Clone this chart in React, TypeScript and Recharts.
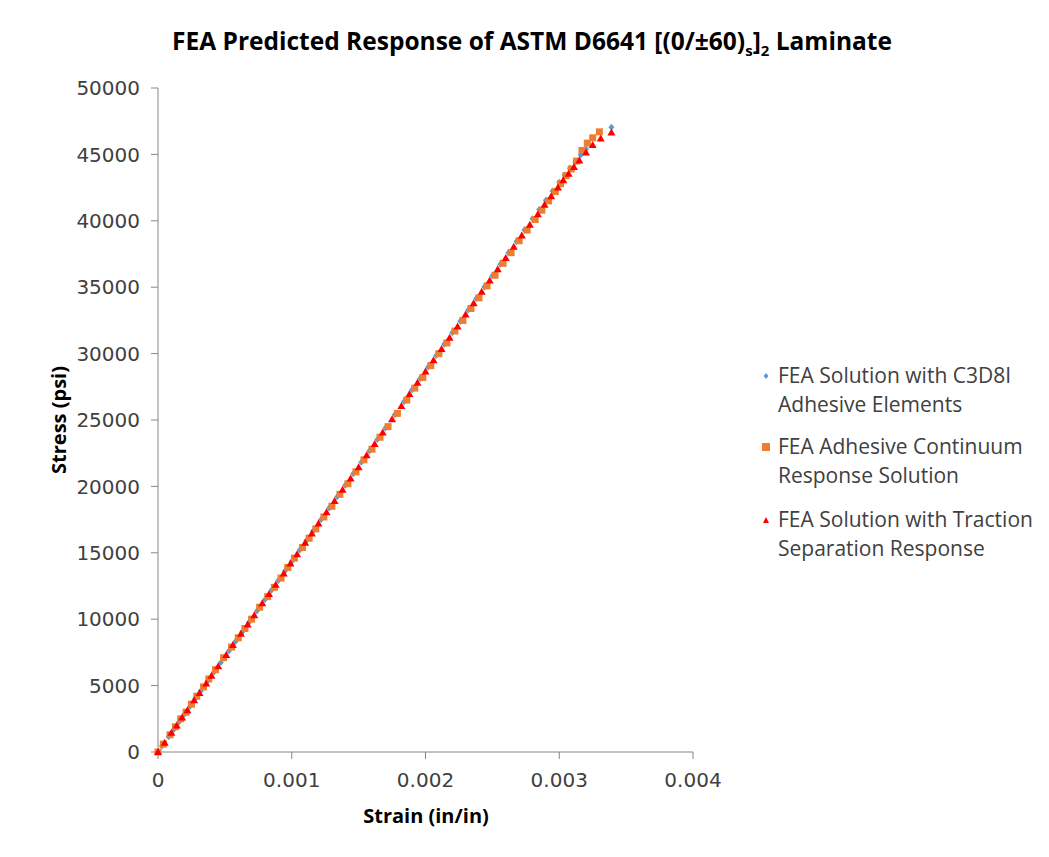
import React from 'react';
import { ScatterChart, Scatter, XAxis, YAxis } from 'recharts';

// strain (in/in) / stress (psi)
const c3d8iStrain = [0, 0.00003, 0.00008, 0.00012, 0.00016, 0.0002, 0.00024, 0.00028, 0.00032, 0.00037, 0.00042, 0.00047, 0.00053, 0.00058, 0.00063, 0.00068, 0.00074, 0.0008, 0.00085, 0.0009, 0.00095, 0.001, 0.00106, 0.00111, 0.00116, 0.00122, 0.00128, 0.00134, 0.0014, 0.00146, 0.00152, 0.00158, 0.00164, 0.0017, 0.00177, 0.00184, 0.0019, 0.00196, 0.00202, 0.00208, 0.00214, 0.0022, 0.00226, 0.00232, 0.00238, 0.00244, 0.0025, 0.00256, 0.00262, 0.00268, 0.00274, 0.0028, 0.00285, 0.0029, 0.00295, 0.003, 0.00304, 0.00308, 0.00312, 0.00316, 0.0032, 0.00339];
const c3d8iStress = [0, 450, 1150, 1720, 2300, 2870, 3440, 4020, 4590, 5310, 6030, 6740, 7600, 8320, 9040, 9760, 10620, 11480, 12200, 12910, 13630, 14350, 15210, 15930, 16650, 17510, 18370, 19230, 20090, 20950, 21810, 22670, 23530, 24400, 25400, 26400, 27270, 28130, 28990, 29850, 30710, 31570, 32430, 33290, 34150, 35010, 35870, 36730, 37590, 38450, 39300, 40150, 40850, 41550, 42250, 42900, 43450, 43950, 44450, 44950, 45400, 47050];

const continuumStrain = [0, 0.00004, 0.00009, 0.00013, 0.00017, 0.00021, 0.00025, 0.00029, 0.00034, 0.00038, 0.00043, 0.00049, 0.00055, 0.0006, 0.00065, 0.0007, 0.00076, 0.00082, 0.00087, 0.00092, 0.00097, 0.00102, 0.00108, 0.00113, 0.00118, 0.00124, 0.0013, 0.00136, 0.00142, 0.00148, 0.00154, 0.0016, 0.00166, 0.00172, 0.00179, 0.00186, 0.00192, 0.00198, 0.00204, 0.0021, 0.00216, 0.00222, 0.00228, 0.00234, 0.0024, 0.00246, 0.00252, 0.00258, 0.00264, 0.0027, 0.00276, 0.00282, 0.00287, 0.00292, 0.00297, 0.00301, 0.00305, 0.00309, 0.00313, 0.00317, 0.00321, 0.00325, 0.0033];
const continuumStress = [0, 600, 1300, 1900, 2500, 3000, 3600, 4200, 4900, 5500, 6200, 7100, 7900, 8600, 9300, 10000, 10900, 11700, 12400, 13100, 13900, 14600, 15400, 16100, 16800, 17700, 18500, 19400, 20200, 21100, 22000, 22800, 23700, 24500, 25500, 26500, 27400, 28200, 29100, 30000, 30800, 31700, 32500, 33400, 34200, 35100, 35900, 36800, 37600, 38500, 39300, 40100, 40800, 41500, 42200, 42800, 43400, 43900, 44500, 45300, 45850, 46250, 46700];

const tractionStrain = [0, 0.00005, 0.0001, 0.00014, 0.00018, 0.00022, 0.00027, 0.00031, 0.00036, 0.0004, 0.00045, 0.00051, 0.00056, 0.00062, 0.00067, 0.00072, 0.00078, 0.00083, 0.00088, 0.00094, 0.00099, 0.00104, 0.0011, 0.00115, 0.0012, 0.00126, 0.00132, 0.00138, 0.00144, 0.0015, 0.00156, 0.00162, 0.00168, 0.00175, 0.00182, 0.00188, 0.00194, 0.002, 0.00206, 0.00212, 0.00218, 0.00224, 0.0023, 0.00236, 0.00242, 0.00248, 0.00254, 0.0026, 0.00266, 0.00272, 0.00278, 0.00284, 0.00289, 0.00294, 0.00299, 0.00303, 0.00307, 0.00311, 0.00315, 0.0032, 0.00325, 0.00331, 0.00339];
const tractionStress = [0, 700, 1450, 2000, 2600, 3150, 3900, 4450, 5150, 5750, 6450, 7300, 8050, 8900, 9600, 10300, 11200, 11900, 12600, 13450, 14200, 14900, 15750, 16450, 17200, 18050, 18900, 19750, 20600, 21450, 22350, 23200, 24050, 25050, 26050, 26950, 27800, 28650, 29500, 30350, 31200, 32050, 32950, 33800, 34650, 35500, 36350, 37200, 38050, 38900, 39700, 40500, 41200, 41850, 42500, 43050, 43550, 44050, 44550, 45150, 45700, 46200, 46650];

const xTicks = [0, 0.001, 0.002, 0.003, 0.004];
const yTicks = [0, 5000, 10000, 15000, 20000, 25000, 30000, 35000, 40000, 45000, 50000];

const BLUE = '#5B9BD5';
const ORANGE = '#ED7D31';
const RED = '#FF0000';
const AXIS = '#868686';
const TEXT = '#404040';

const toPoints = (xs: number[], ys: number[]) => xs.map((x, i) => ({ x, y: ys[i] }));

const Diamond = (p: any) => (
  <polygon points={`${p.cx},${p.cy - 3.5} ${p.cx + 3},${p.cy} ${p.cx},${p.cy + 3.5} ${p.cx - 3},${p.cy}`} fill={BLUE} />
);
const Square = (p: any) => <rect x={p.cx - 3.5} y={p.cy - 3.5} width={7} height={7} fill={ORANGE} />;
const Triangle = (p: any) => (
  <polygon points={`${p.cx},${p.cy - 4} ${p.cx + 4},${p.cy + 3} ${p.cx - 4},${p.cy + 3}`} fill={RED} />
);

const legendItems = [
  { lines: ['FEA Solution with C3D8I', 'Adhesive Elements'], mark: 'diamond', top: 361 },
  { lines: ['FEA Adhesive Continuum', 'Response Solution'], mark: 'square', top: 432 },
  { lines: ['FEA Solution with Traction', 'Separation Response'], mark: 'triangle', top: 505 },
];

function LegendMark({ kind }: { kind: string }) {
  return (
    <svg width={10} height={10} style={{ position: 'absolute', left: -17, top: 10 }}>
      {kind === 'diamond' && <polygon points="5,2 7.5,5 5,8 2.5,5" fill={BLUE} />}
      {kind === 'square' && <rect x={1} y={1} width={8} height={8} fill={ORANGE} />}
      {kind === 'triangle' && <polygon points="5,2 8,8 2,8" fill={RED} />}
    </svg>
  );
}

export default function App() {
  const font = '"Open Sans", sans-serif';
  return (
    <div style={{ position: 'absolute', left: 0, top: 0, width: 1049, height: 857, background: '#fff', fontFamily: font }}>
      <div style={{ position: 'absolute', left: 0, top: 24, width: 1064, textAlign: 'center', fontWeight: 700, fontSize: 24.5, color: '#000' }}>
        FEA Predicted Response of ASTM D6641 [(0/±60)<sub style={{ fontSize: 15 }}>s</sub>]<sub style={{ fontSize: 15 }}>2</sub> Laminate
      </div>

      <ScatterChart width={1049} height={857} margin={{ top: 88, right: 356, bottom: 45, left: 0 }}>
        <XAxis
          type="number"
          dataKey="x"
          domain={[0, 0.004]}
          ticks={xTicks}
          tickFormatter={(v: number) => String(v)}
          height={60}
          tickSize={7}
          tickMargin={14}
          stroke={AXIS}
          tick={{ fill: TEXT, fontSize: 20, fontFamily: '"DejaVu Sans", sans-serif' }}
        />
        <YAxis
          type="number"
          dataKey="y"
          domain={[0, 50000]}
          ticks={yTicks}
          width={158}
          tickSize={7}
          tickMargin={11}
          stroke={AXIS}
          tick={{ fill: TEXT, fontSize: 20, fontFamily: '"DejaVu Sans", sans-serif' }}
        />
        <Scatter data={toPoints(c3d8iStrain, c3d8iStress)} shape={Diamond} isAnimationActive={false} />
        <Scatter data={toPoints(continuumStrain, continuumStress)} shape={Square} isAnimationActive={false} />
        <Scatter data={toPoints(tractionStrain, tractionStress)} shape={Triangle} isAnimationActive={false} />
      </ScatterChart>

      <div style={{ position: 'absolute', left: 0, top: 802, width: 852, textAlign: 'center', fontWeight: 700, fontSize: 20, color: '#000' }}>
        Strain (in/in)
      </div>
      <div
        style={{
          position: 'absolute', left: 58, top: 420, transform: 'translate(-50%, -50%) rotate(-90deg)',
          whiteSpace: 'nowrap', fontWeight: 700, fontSize: 20, color: '#000',
        }}
      >
        Stress (psi)
      </div>

      {legendItems.map((it) => (
        <div key={it.mark} style={{ position: 'absolute', left: 778, top: it.top, fontSize: 21, lineHeight: '29px', color: TEXT }}>
          <LegendMark kind={it.mark} />
          {it.lines.map((l) => (
            <div key={l}>{l}</div>
          ))}
        </div>
      ))}
    </div>
  );
}
